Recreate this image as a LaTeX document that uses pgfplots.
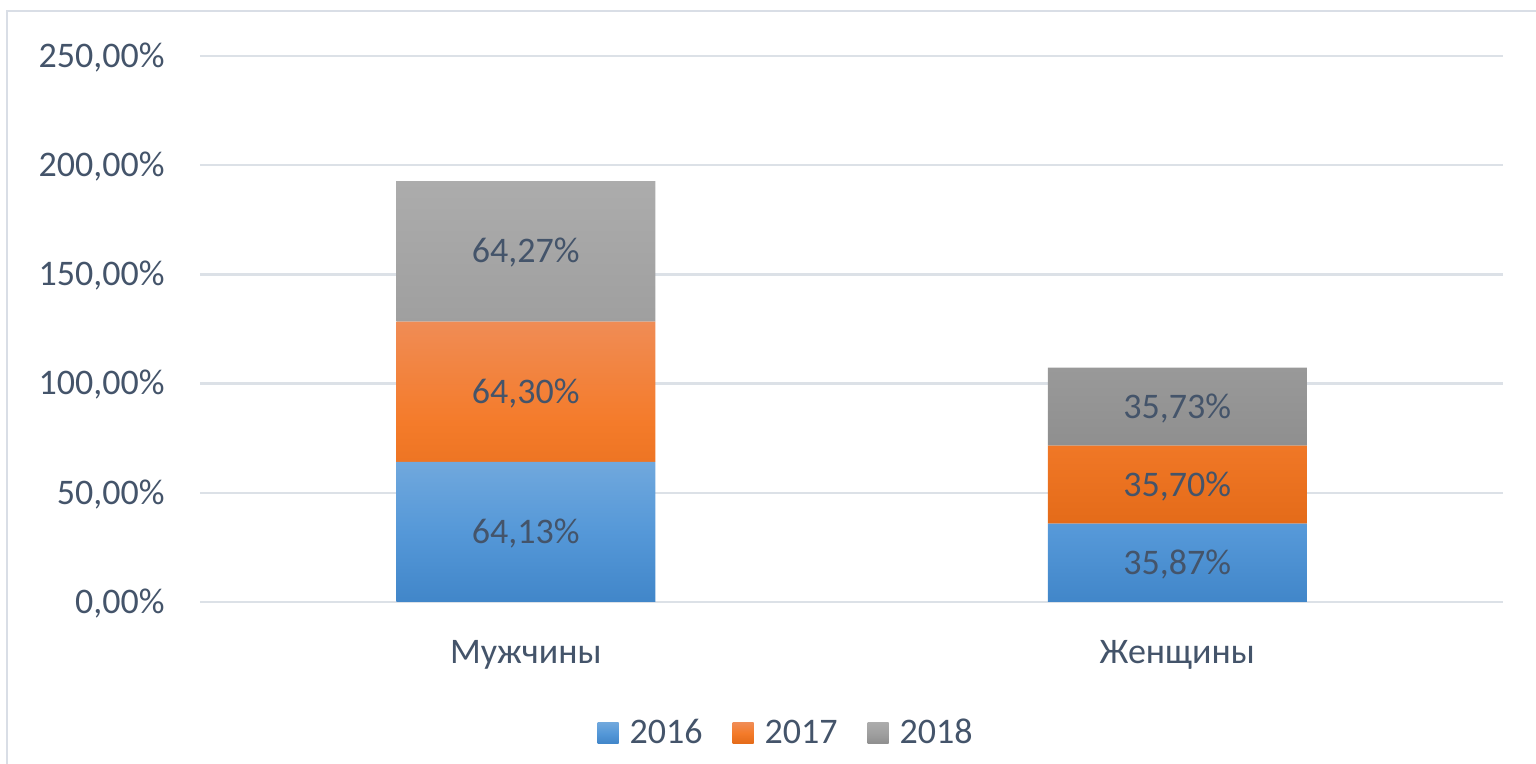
\documentclass[border=0pt]{standalone}
\usepackage{fontspec}
\setmainfont{Carlito}
\usepackage{pgfplots}
\usepackage{pgfplotstable}
\pgfplotsset{compat=1.18}
\definecolor{txt}{HTML}{44546A}
\definecolor{gridc}{HTML}{DCE1E7}
\definecolor{framec}{HTML}{D9DEE6}
\definecolor{bTop}{HTML}{70A8DD}
\definecolor{bMid}{HTML}{5598D8}
\definecolor{bBot}{HTML}{4186C9}
\definecolor{oTop}{HTML}{F08C55}
\definecolor{oMid}{HTML}{F47B2A}
\definecolor{oBot}{HTML}{E46B19}
\definecolor{gTop}{HTML}{ACACAC}
\definecolor{gMid}{HTML}{A0A0A0}
\definecolor{gBot}{HTML}{8F8F8F}
\pgfplotstableread{
x y
0 64.13
1 35.87
}\tA
\pgfplotstableread{
x y
0 64.30
1 35.70
}\tB
\pgfplotstableread{
x y
0 64.27
1 35.73
}\tC
\newcommand\bigf{\fontsize{18}{21}\selectfont}
\pgfplotsset{
  seglabels/.style={
    visualization depends on={\thisrow{y} \as \segh},
    nodes near coords={\pgfmathprintnumber[fixed,fixed zerofill,precision=2,use comma,assume math mode=true]{\segh}\%},
    every node near coord/.append style={anchor=base, yshift=-5.7pt, font=\bigf, text=txt, inner sep=0pt},
  }
}
\begin{document}
\begin{tikzpicture}
\useasboundingbox (0pt,0pt) rectangle (768pt,382pt);
\draw[framec, line width=1pt] (3.5pt,0pt) -- (3.5pt,376.5pt) -- (768pt,376.5pt);
\begin{axis}[
  at={(100pt,81pt)}, anchor=south west,
  scale only axis, width=651.5pt, height=273pt,
  ybar stacked, bar width=129.5pt,
  xmin=-0.5, xmax=1.5, ymin=0, ymax=250,
  enlargelimits=false,
  xtick={0,1}, xticklabels={Мужчины,Женщины},
  ytick={0,50,100,150,200,250},
  yticklabels={{0,00\%},{50,00\%},{100,00\%},{150,00\%},{200,00\%},{250,00\%}},
  xticklabel style={anchor=base, yshift=-31pt, font=\bigf, text=txt},
  yticklabel style={anchor=base east, inner sep=0pt, xshift=-17.5pt, yshift=-5.7pt, font=\bigf, text=txt},
  ymajorgrids, grid style={line width=1.2pt, gridc},
  axis line style={draw=none}, tick style={draw=none},
  legend style={at={(0.449,-0.240)}, anchor=center, legend columns=3, draw=none, fill=none,
    font=\bigf, text=txt, nodes={inner sep=0pt},
    /tikz/every even column/.append style={column sep=15pt}},
  legend image code/.code={\path[#1,draw=none] (0pt,-5.25pt) rectangle (10.5pt,5.25pt); \path (0pt,0pt) -- (16pt,0pt);},
]
\addplot[seglabels, draw=none, top color=bTop, bottom color=bBot, middle color=bMid] table[x=x,y=y] {\tA};
\addplot[seglabels, draw=none, top color=oTop, bottom color=oBot, middle color=oMid] table[x=x,y=y] {\tB};
\addplot[seglabels, draw=none, top color=gTop, bottom color=gBot, middle color=gMid] table[x=x,y=y] {\tC};
\legend{2016,2017,2018}
\end{axis}
\end{tikzpicture}
\end{document}
